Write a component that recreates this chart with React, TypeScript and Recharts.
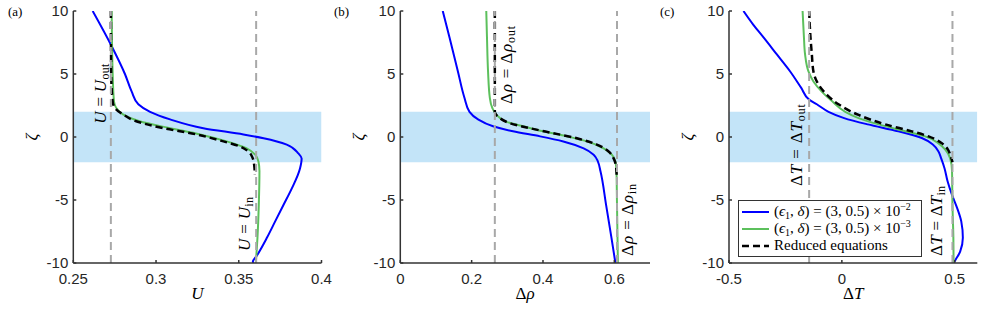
import React from 'react';
import { ComposedChart, Line, XAxis, YAxis, ReferenceArea, ReferenceLine, Legend } from 'recharts';

// shared ζ axis
const ZETA_TICKS = [-10, -5, 0, 5, 10];
const BAND_LO = -2;
const BAND_HI = 2;

// (a) U
const U_TICKS = [0.25, 0.3, 0.35, 0.4];
const U_OUT = 0.2727;
const U_IN = 0.3605;
const U_BLUE_Z = [10, 7.2, 5, 3.6, 2.6, 2, 1.4, 0.7, 0.2, -0.1, -0.6, -1.3, -1.7, -2.5, -4.1, -5.4, -6.7, -8, -9.4, -9.9, -10];
const U_BLUE = [0.2617, 0.2732, 0.2812, 0.2853, 0.2893, 0.2964, 0.3085, 0.3286, 0.3528, 0.365, 0.379, 0.386, 0.388, 0.387, 0.382, 0.377, 0.372, 0.367, 0.361, 0.3585, 0.359];
const U_GREEN_Z = [10, 5, 2.8, 2.3, 1.8, 1.25, 0.7, 0.2, -0.35, -0.9, -1.4, -1.95, -2.7, -5.4, -8, -10];
const U_GREEN = [0.2732, 0.2738, 0.2746, 0.276, 0.28, 0.29, 0.3085, 0.3266, 0.3427, 0.3548, 0.3599, 0.3619, 0.3625, 0.3621, 0.3613, 0.3603];
const U_BLACK_Z = [10, 5, 2.8, 2.3, 1.8, 1.25, 0.7, 0.2, -0.35, -0.75, -1.15, -1.7, -2.2, -3.0];
const U_BLACK = [0.2727, 0.2729, 0.2738, 0.2752, 0.28, 0.288, 0.3044, 0.3246, 0.3407, 0.3508, 0.3558, 0.3585, 0.3593, 0.3597];

// (b) Δρ
const R_TICKS = [0, 0.2, 0.4, 0.6];
const R_OUT = 0.265;
const R_IN = 0.6075;
const R_BLUE_Z = [10, 7.9, 5.2, 3.1, 2.0, 1.4, 0.85, 0.45, 0.05, -0.35, -0.9, -1.4, -1.95, -2.7, -5.4, -8, -10];
const R_BLUE = [0.119, 0.138, 0.1615, 0.18, 0.194, 0.218, 0.26, 0.316, 0.392, 0.457, 0.514, 0.542, 0.554, 0.561, 0.577, 0.592, 0.603];
const R_GREEN_Z = [10, 7.9, 5.2, 3.1, 2.3, 1.8, 1.2, 0.85, 0.45, 0.05, -0.35, -0.9, -1.4, -1.95, -2.7, -5.4, -10];
const R_GREEN = [0.241, 0.243, 0.246, 0.251, 0.258, 0.269, 0.298, 0.345, 0.401, 0.467, 0.523, 0.57, 0.593, 0.603, 0.606, 0.6075, 0.61];
const R_BLACK_Z = [10, 2, 1.5, 1.1, 0.7, 0.3, -0.1, -0.6, -1.15, -1.7, -2.2, -3.0];
const R_BLACK = [0.265, 0.265, 0.279, 0.307, 0.363, 0.429, 0.495, 0.551, 0.584, 0.598, 0.604, 0.6065];

// (c) ΔT
const T_TICKS = [-0.5, 0, 0.5];
const T_OUT = -0.145;
const T_IN = 0.49;
const T_BLUE_Z = [10, 8.9, 7.9, 6.55, 5.2, 3.9, 2.97, 2.6, 2.0, 1.5, 1.0, 0.45, -0.08, -0.6, -1.15, -1.7, -2.5, -3.5, -4.6, -5.6, -6.7, -8, -9.1, -9.7, -10];
const T_BLUE = [-0.436, -0.392, -0.347, -0.288, -0.229, -0.18, -0.145, -0.111, -0.059, 0.01, 0.115, 0.25, 0.354, 0.403, 0.428, 0.44, 0.455, 0.468, 0.488, 0.51, 0.529, 0.536, 0.524, 0.505, 0.495];
const T_GREEN_Z = [10, 7.9, 6.55, 5.2, 4.4, 3.6, 2.85, 2.0, 1.5, 1.0, 0.45, 0.05, -0.5, -1.0, -1.7, -2.7, -5.4, -8, -10];
const T_GREEN = [-0.174, -0.168, -0.163, -0.148, -0.126, -0.089, -0.044, 0.015, 0.074, 0.163, 0.281, 0.369, 0.428, 0.458, 0.48, 0.488, 0.49, 0.494, 0.495];
const T_BLACK_Z = [10, 7.9, 6.55, 5.2, 4.15, 3.35, 2.6, 1.75, 1.0, 0.45, 0.05, -0.5, -1.0, -1.4, -2];
const T_BLACK = [-0.145, -0.139, -0.133, -0.126, -0.103, -0.066, -0.015, 0.074, 0.192, 0.31, 0.384, 0.443, 0.47, 0.48, 0.49];

const zip = (z: number[], v: number[]) => z.map((zz, i) => ({ z: zz, v: v[i] }));

const AX = '#333';
const SERIF = "'Liberation Serif', serif";
const SANS = "'Liberation Sans', Arial, sans-serif";

const STYLES: Record<string, { stroke: string; width: number; dash?: string }> = {
  eps2: { stroke: '#0000ff', width: 2 },
  eps3: { stroke: '#5cc05c', width: 2 },
  reduced: { stroke: '#000', width: 2.5, dash: '7 4' },
};

const sub = (s: string) => <span style={{ fontSize: 10, position: 'relative', top: 3 }}>{s}</span>;
const sup = (s: string) => <span style={{ fontSize: 10, position: 'relative', top: -6 }}>{s}</span>;

const LEGEND_TEXT: Record<string, React.ReactNode> = {
  eps2: <>(<i>ϵ</i>{sub('1')}, <i>δ</i>) = (3, 0.5) × 10{sup('−2')}</>,
  eps3: <>(<i>ϵ</i>{sub('1')}, <i>δ</i>) = (3, 0.5) × 10{sup('−3')}</>,
  reduced: <>Reduced equations</>,
};

function LegendBox({ payload }: any) {
  const order = ['eps2', 'eps3', 'reduced'];
  const items = [...(payload || [])].sort((a: any, b: any) => order.indexOf(a.value) - order.indexOf(b.value));
  return (
    <div style={{ border: `1px solid ${AX}`, background: '#fff', padding: '2px 10px 2px 2px', fontFamily: SERIF, fontSize: 15, lineHeight: '17px', color: '#000' }}>
      {items.map((p: any) => {
        const st = STYLES[p.value];
        return (
          <div key={p.value} style={{ display: 'flex', alignItems: 'center', whiteSpace: 'nowrap', height: 17 }}>
            <svg width={33} height={17} style={{ flex: 'none' }}>
              <line x1={1} x2={28} y1={9} y2={9} stroke={st.stroke} strokeWidth={st.width} strokeDasharray={st.dash} />
            </svg>
            <span style={{ fontFamily: SERIF }}>{LEGEND_TEXT[p.value]}</span>
          </div>
        );
      })}
    </div>
  );
}

// rotated annotation next to a reference line; len stretches the spacing to the width LaTeX gives
function RotText({ viewBox, dx, frac, len, node }: any) {
  if (!viewBox) return null;
  const x = viewBox.x + dx;
  const y = viewBox.y + viewBox.height * frac;
  return (
    <text x={x} y={y} transform={`rotate(-90 ${x} ${y})`} textAnchor="middle" fontFamily={SERIF} fontSize={17} fill="#000"
      textLength={len} lengthAdjust="spacing">
      {node}
    </text>
  );
}

function XTitle({ viewBox, node }: any) {
  if (!viewBox) return null;
  return (
    <text x={viewBox.x + viewBox.width / 2} y={viewBox.y + 36} textAnchor="middle" fontFamily={SERIF} fontSize={17} fill="#000">
      {node}
    </text>
  );
}

function ZetaTitle({ viewBox }: any) {
  if (!viewBox) return null;
  const x = viewBox.x + viewBox.width - 36;
  const y = viewBox.y + viewBox.height / 2;
  return (
    <text x={x} y={y} transform={`rotate(-90 ${x} ${y})`} textAnchor="middle" fontFamily={SERIF} fontStyle="italic" fontSize={17} fill="#000">
      ζ
    </text>
  );
}

const it = (s: string) => <tspan fontStyle="italic">{s}</tspan>;
const lo = (s: string) => <tspan fontSize={12} dy={3}>{s}</tspan>;

type Pos = [number, number, number]; // dx from line, fraction down the plot, text length

type PanelProps = {
  left: number;
  ml: number;
  mr: number;
  domain: [number, number];
  ticks: number[];
  blue: { z: number; v: number }[];
  green: { z: number; v: number }[];
  black: { z: number; v: number }[];
  refOut: number;
  refIn: number;
  outLabel: React.ReactNode;
  inLabel: React.ReactNode;
  outPos: Pos;
  inPos: Pos;
  title: React.ReactNode;
  legend?: boolean;
};

// each panel is 340 wide; the extra 12px on the right keeps the last tick label from being clipped
function Panel(p: PanelProps) {
  const tickStyle = { fill: '#262626', fontSize: 15, fontFamily: SANS };
  return (
    <div style={{ position: 'absolute', left: p.left, top: 0 }}>
      <ComposedChart width={340} height={311} layout="vertical" margin={{ top: 11, right: p.mr + 12, left: p.ml, bottom: 8 }}>
        <XAxis type="number" dataKey="v" domain={p.domain} ticks={p.ticks} interval={0} allowDataOverflow height={40}
          stroke={AX} strokeWidth={1.5} tick={tickStyle} tickSize={-3} tickMargin={13}
          label={<XTitle node={p.title} />} />
        <XAxis xAxisId="top" orientation="top" type="number" domain={p.domain} ticks={p.ticks} interval={0} allowDataOverflow height={0}
          stroke={AX} strokeWidth={1.5} tick={false} tickSize={-3} />
        <YAxis type="number" dataKey="z" reversed domain={[-10, 10]} ticks={ZETA_TICKS} interval={0} allowDataOverflow width={45}
          stroke={AX} strokeWidth={1.5} tick={tickStyle} tickSize={-3} tickMargin={8}
          label={<ZetaTitle />} />
        <YAxis yAxisId="right" orientation="right" type="number" reversed domain={[-10, 10]} ticks={ZETA_TICKS} interval={0} allowDataOverflow width={0}
          stroke={AX} strokeWidth={1.5} tick={false} tickSize={-3} />
        <ReferenceArea y1={BAND_LO} y2={BAND_HI} fill="#c3e4f8" fillOpacity={1} stroke="none" ifOverflow="hidden" />
        <Line name="eps2" data={p.blue} dataKey="v" type="monotone" stroke={STYLES.eps2.stroke} strokeWidth={STYLES.eps2.width} dot={false} isAnimationActive={false} />
        <Line name="eps3" data={p.green} dataKey="v" type="monotone" stroke={STYLES.eps3.stroke} strokeWidth={STYLES.eps3.width} dot={false} isAnimationActive={false} />
        <Line name="reduced" data={p.black} dataKey="v" type="monotone" stroke={STYLES.reduced.stroke} strokeWidth={STYLES.reduced.width} strokeDasharray={STYLES.reduced.dash} dot={false} isAnimationActive={false} />
        <ReferenceLine x={p.refOut} stroke="#a8a8a8" strokeWidth={2} strokeDasharray="8 5"
          label={<RotText dx={p.outPos[0]} frac={p.outPos[1]} len={p.outPos[2]} node={p.outLabel} />} />
        <ReferenceLine x={p.refIn} stroke="#a8a8a8" strokeWidth={2} strokeDasharray="8 5"
          label={<RotText dx={p.inPos[0]} frac={p.inPos[1]} len={p.inPos[2]} node={p.inLabel} />} />
        {p.legend && (
          <Legend layout="vertical" align="center" verticalAlign="middle"
            wrapperStyle={{ left: 82, top: 200, width: 'auto', height: 'auto' }}
            content={(props: any) => <LegendBox payload={props.payload} />} />
        )}
      </ComposedChart>
    </div>
  );
}

const letterStyle = (left: number): React.CSSProperties => ({
  position: 'absolute', left, top: 5, fontFamily: SERIF, fontSize: 13, lineHeight: '13px', color: '#000',
});

export default function App() {
  return (
    <div style={{ position: 'absolute', left: 0, top: 0, width: 984, height: 311, background: '#fff', overflow: 'hidden' }}>
      <Panel left={0} ml={28.3} mr={6.5} domain={[0.25, 0.4]} ticks={U_TICKS}
        blue={zip(U_BLUE_Z, U_BLUE)} green={zip(U_GREEN_Z, U_GREEN)} black={zip(U_BLACK_Z, U_BLACK)}
        refOut={U_OUT} refIn={U_IN}
        outLabel={<>{it('U')} = {it('U')}{lo('out')}</>} outPos={[-5, 0.328, 60]}
        inLabel={<>{it('U')} = {it('U')}{lo('in')}</>} inPos={[-5.7, 0.845, 54]}
        title={it('U')} />
      <Panel left={328} ml={27.3} mr={6} domain={[0, 0.7]} ticks={R_TICKS}
        blue={zip(R_BLUE_Z, R_BLUE)} green={zip(R_GREEN_Z, R_GREEN)} black={zip(R_BLACK_Z, R_BLACK)}
        refOut={R_OUT} refIn={R_IN}
        outLabel={<>Δ{it('ρ')} = Δ{it('ρ')}{lo('out')}</>} outPos={[17, 0.214, 78]}
        inLabel={<>Δ{it('ρ')} = Δ{it('ρ')}{lo('in')}</>} inPos={[16.3, 0.829, 72]}
        title={<>Δ{it('ρ')}</>} />
      <Panel left={656} ml={28} mr={6.7} domain={[-0.5, 0.6]} ticks={T_TICKS}
        blue={zip(T_BLUE_Z, T_BLUE)} green={zip(T_GREEN_Z, T_GREEN)} black={zip(T_BLACK_Z, T_BLACK)}
        refOut={T_OUT} refIn={T_IN}
        outLabel={<>Δ{it('T')} = Δ{it('T')}{lo('out')}</>} outPos={[-7.6, 0.532, 82]}
        inLabel={<>Δ{it('T')} = Δ{it('T')}{lo('in')}</>} inPos={[-10, 0.833, 70]}
        title={<>Δ{it('T')}</>} legend />
      <div style={letterStyle(8)}>(a)</div>
      <div style={letterStyle(334)}>(b)</div>
      <div style={letterStyle(660)}>(c)</div>
    </div>
  );
}
